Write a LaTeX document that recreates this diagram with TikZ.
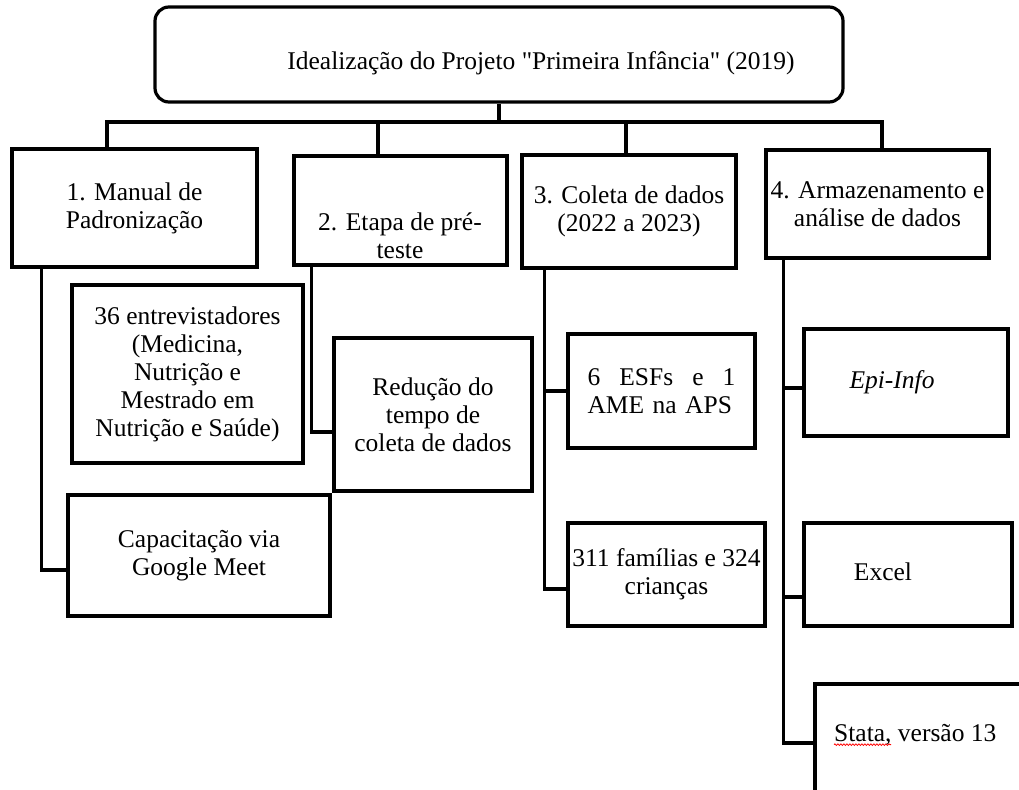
\documentclass[tikz,border=0pt]{standalone}
\usepackage{fontspec}
\setmainfont{Liberation Serif}
\usetikzlibrary{decorations.pathmorphing}

\begin{document}
\begin{tikzpicture}[x=1pt,y=-1pt,font=\fontsize{25.5}{28}\selectfont,
  box/.style={draw,line width=3.2pt,inner sep=2pt,align=center},
  txt/.style={inner sep=0pt,align=center},
  conn/.style={line width=3.2pt},
  spell/.style={red,line width=.8pt,decorate,decoration={snake,amplitude=.8pt,segment length=3pt}}]
\clip (0,0) rectangle (1019,789);
% top of the tree
\node[box,rounded corners=14pt,minimum width=688pt,minimum height=95pt] (top) at (499,54.5) {};
\node[txt] (topt) at (541,63) {Idealização do Projeto \textquotedbl Primeira Infância\textquotedbl{} (2019)};
% the four steps
\node[box,minimum width=245pt,minimum height=118pt] (m1) at (134.5,208) {1. Manual de\\Padronização};
\node[box,minimum width=213pt,minimum height=109pt] (m2) at (400.5,210.5) {};
\node[txt] (m2t) at (400,236) {2. Etapa de pré-\\teste};
\node[box,minimum width=214pt,minimum height=113pt] (m3) at (629,211.5) {3. Coleta de dados\\(2022 a 2023)};
\node[box,minimum width=223pt,minimum height=108pt] (m4) at (877.5,204) {4. Armazenamento e\\análise de dados};
% details
\node[box,minimum width=231pt,minimum height=178pt] (a1) at (187.5,374) {36 entrevistadores\\(Medicina,\\Nutrição e\\Mestrado em\\Nutrição e Saúde)};
\node[box,minimum width=262pt,minimum height=121pt] (a2) at (199,555.5) {Capacitação via\\Google Meet};
\node[box,minimum width=198pt,minimum height=153pt] (b1) at (433,414.5) {Redução do\\tempo de\\coleta de dados};
\node[box,minimum width=187pt,minimum height=114pt,text width=148pt,align=left] (c1) at (661.5,391) {6\hfill ESFs\hfill e\hfill 1\\AME~na~APS};
\node[box,minimum width=197pt,minimum height=103pt] (c2) at (666.5,574.5) {311 famílias e 324\\crianças};
\node[box,minimum width=204pt,minimum height=107pt] (d1) at (906,382.5) {};
\node[txt] (d1t) at (892,382) {\itshape Epi-Info};
\node[box,minimum width=208pt,minimum height=103pt] (d2) at (908,574.5) {};
\node[txt] (d2t) at (883,572) {Excel};
\node[box,minimum width=245pt,minimum height=126pt] (d3) at (937.5,747) {};
\node[txt,anchor=west] (d3t) at (834,735) {Stata, versão 13};
\draw[spell] ([yshift=-3pt]d3t.base west) -- ++(57pt,0);
% connectors
\coordinate (bar) at (499,122);
\draw[conn] (top.south) -- (bar);
\draw[conn] ([xshift=-27.5pt]m1.north) |- ([xshift=4.5pt]m4.north |- bar) -- ([xshift=4.5pt]m4.north);
\draw[conn] ([xshift=-22.5pt]m2.north) -- ([xshift=-22.5pt]m2.north |- bar);
\draw[conn] ([xshift=-3pt]m3.north) -- ([xshift=-3pt]m3.north |- bar);
\draw[conn] ([xshift=31pt]m1.south west) |- ([yshift=-14.5pt]a2.west);
\draw[conn] ([xshift=19pt]m2.south west) |- ([yshift=-17.5pt]b1.west);
\draw[conn] ([xshift=24pt]m3.south west) |- ([yshift=-14.5pt]c2.west);
\draw[conn] ([xshift=24pt]m3.south west |- c1.west) -- (c1.west);
\draw[conn] ([xshift=19pt]m4.south west) |- ([yshift=4pt]d3.west);
\draw[conn] ([xshift=19pt]m4.south west |- d1.west) ++(0,-5.5pt) -- ([yshift=-5.5pt]d1.west);
\draw[conn] ([xshift=19pt]m4.south west |- d2.west) ++(0,-22.5pt) -- ([yshift=-22.5pt]d2.west);
\end{tikzpicture}
\end{document}
